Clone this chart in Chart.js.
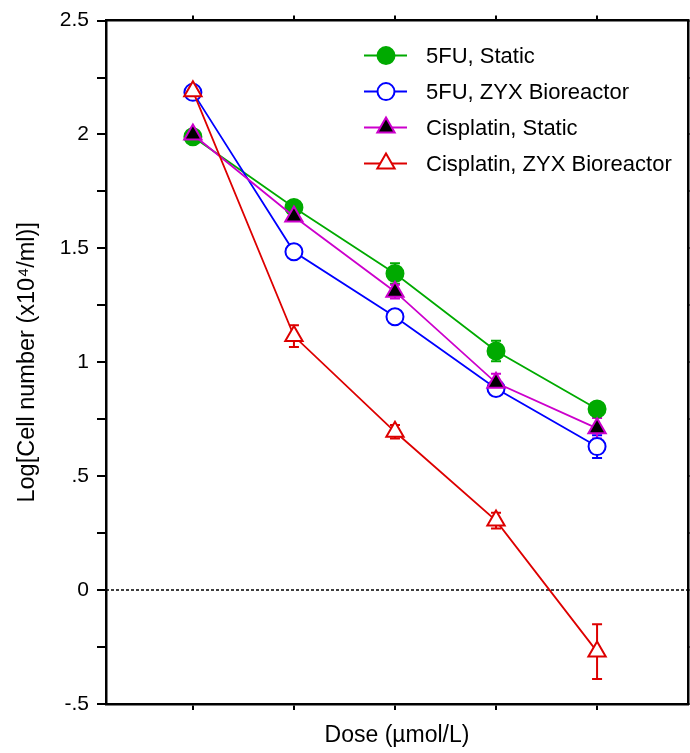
<!DOCTYPE html>
<html>
<head>
<meta charset="utf-8">
<script src="https://cdn.jsdelivr.net/npm/chart.js@4.4.0/dist/chart.umd.min.js"></script>
<style>
  html, body { margin: 0; padding: 0; background: #fff; }
  #wrap { width: 690px; height: 753px; position: relative; }
</style>
</head>
<body>
<div id="wrap"><canvas id="cellChart"></canvas></div>
<script>
"use strict";

// five dose levels, the axis carries no dose values
var doseLevels = [0, 1, 2, 3, 4];

var seriesNames = ["5FU, Static", "5FU, ZYX Bioreactor", "Cisplatin, Static", "Cisplatin, ZYX Bioreactor"];

var fuStatic = [1.99, 1.68, 1.39, 1.05, 0.795];
var fuStaticErr = [0.01, 0.015, 0.045, 0.045, 0.02];
var fuZyx = [2.185, 1.485, 1.20, 0.885, 0.63];
var fuZyxErr = [0.01, 0.01, 0.015, 0.02, 0.05];
var cisStatic = [2.0, 1.64, 1.31, 0.91, 0.71];
var cisStaticErr = [0.01, 0.02, 0.03, 0.04, 0.045];
var cisZyx = [2.19, 1.115, 0.695, 0.305, -0.27];
var cisZyxErr = [0.01, 0.048, 0.03, 0.035, 0.12];

var yTickValues = [-0.5, 0, 0.5, 1, 1.5, 2, 2.5];
var yTickLabels = ["-.5", "0", ".5", "1", "1.5", "2", "2.5"];

Chart.defaults.font.family = "'Liberation Sans', Arial, sans-serif";
Chart.defaults.color = '#000';

function toPoints(values) {
    return doseLevels.map(function (d, i) { return { x: d, y: values[i] }; });
}

function doseTicks(scale) {
    scale.ticks = doseLevels.map(function (v) { return { value: v }; });
}

// error bars go under the markers
var errorBars = {
    id: 'errorBars',
    beforeDatasetsDraw: function (chart) {
        var ctx = chart.ctx, yScale = chart.scales.y;
        chart.data.datasets.forEach(function (ds, i) {
            var meta = chart.getDatasetMeta(i);
            ctx.save();
            ctx.strokeStyle = ds.borderColor;
            ctx.lineWidth = 2;
            meta.data.forEach(function (pt, j) {
                var v = ds.data[j].y, e = ds.errors[j];
                var top = yScale.getPixelForValue(v + e), bot = yScale.getPixelForValue(v - e);
                ctx.beginPath();
                ctx.moveTo(pt.x, top); ctx.lineTo(pt.x, bot);
                ctx.moveTo(pt.x - 5, top); ctx.lineTo(pt.x + 5, top);
                ctx.moveTo(pt.x - 5, bot); ctx.lineTo(pt.x + 5, bot);
                ctx.stroke();
            });
            ctx.restore();
        });
    }
};

var zeroLine = {
    id: 'zeroLine',
    beforeDatasetsDraw: function (chart) {
        var ctx = chart.ctx, a = chart.chartArea;
        var y0 = chart.scales.y.getPixelForValue(0);
        ctx.save();
        ctx.strokeStyle = '#000';
        ctx.lineWidth = 1.5;
        ctx.setLineDash([3, 2]);
        ctx.beginPath();
        ctx.moveTo(a.left, y0); ctx.lineTo(a.right, y0);
        ctx.stroke();
        ctx.restore();
    }
};

// legend with line-marker-line symbols like the original
var lineLegend = {
    id: 'lineLegend',
    afterDraw: function (chart) {
        var ctx = chart.ctx, a = chart.chartArea;
        var x0 = a.left + 258;
        chart.data.datasets.forEach(function (ds, i) {
            var y = a.top + 35 + i * 36;
            ctx.save();
            ctx.strokeStyle = ds.borderColor;
            ctx.lineWidth = 2;
            ctx.beginPath();
            ctx.moveTo(x0, y); ctx.lineTo(x0 + 43, y);
            ctx.stroke();
            ctx.fillStyle = ds.pointBackgroundColor;
            ctx.strokeStyle = ds.borderColor;
            Chart.helpers.drawPoint(ctx, {
                pointStyle: ds.pointStyle, radius: ds.pointRadius,
                rotation: 0, borderWidth: ds.pointBorderWidth
            }, x0 + 22, y);
            ctx.fillStyle = '#000';
            ctx.font = "22px 'Liberation Sans', Arial, sans-serif";
            ctx.textBaseline = 'middle';
            ctx.fillText(ds.label, x0 + 62, y + 1);
            ctx.restore();
        });
    }
};

function series(name, values, errs, color, fill, style, radius, order) {
    return {
        label: name,
        data: toPoints(values),
        errors: errs,
        borderColor: color,
        borderWidth: 1.8,
        pointStyle: style,
        pointRadius: radius,
        pointHoverRadius: radius,
        pointBackgroundColor: fill,
        pointBorderColor: color,
        pointBorderWidth: 2,
        tension: 0,
        order: order
    };
}

var ctxEl = document.getElementById('cellChart');
new Chart(ctxEl, {
    type: 'line',
    data: {
        datasets: [
            series(seriesNames[0], fuStatic, fuStaticErr, '#00AA00', '#00AA00', 'circle', 8.5, 3),
            series(seriesNames[1], fuZyx, fuZyxErr, '#0000FF', '#FFFFFF', 'circle', 8.5, 2),
            series(seriesNames[2], cisStatic, cisStaticErr, '#CC00CC', '#000000', 'triangle', 10, 1),
            series(seriesNames[3], cisZyx, cisZyxErr, '#DD0000', '#FFFFFF', 'triangle', 10, 0)
        ]
    },
    options: {
        responsive: true,
        maintainAspectRatio: false,
        animation: false,
        events: [],
        layout: { padding: 0, autoPadding: false },
        plugins: {
            legend: { display: false },
            tooltip: { enabled: false }
        },
        scales: {
            x: {
                type: 'linear',
                position: 'bottom',
                min: -0.86,
                max: 4.9,
                afterBuildTicks: doseTicks,
                afterFit: function (s) { s.height = 49; },
                ticks: { display: false },
                grid: { drawOnChartArea: false, color: '#000', lineWidth: 2, tickLength: 6 },
                border: { color: '#000', width: 2.5 },
                title: {
                    display: true,
                    text: 'Dose (µmol/L)',
                    font: { size: 23 },
                    padding: { top: 0, bottom: 4 }
                }
            },
            xTop: {
                type: 'linear',
                position: 'top',
                min: -0.86,
                max: 4.9,
                afterBuildTicks: doseTicks,
                afterFit: function (s) { s.height = 17; },
                ticks: { display: false },
                grid: { drawOnChartArea: false, color: '#000', lineWidth: 2, tickLength: 5 },
                border: { color: '#000', width: 2.5 }
            },
            y: {
                type: 'linear',
                position: 'left',
                min: -0.5,
                max: 2.5,
                afterFit: function (s) { s.width = 106; },
                ticks: {
                    stepSize: 0.25,
                    autoSkip: false,
                    padding: 8,
                    font: { size: 21 },
                    callback: function (v) {
                        for (var k = 0; k < yTickValues.length; k++) {
                            if (Math.abs(yTickValues[k] - v) < 1e-6) return yTickLabels[k];
                        }
                        return '';
                    }
                },
                grid: { drawOnChartArea: false, color: '#000', lineWidth: 2, tickLength: 9 },
                border: { color: '#000', width: 2.5 },
                title: {
                    display: true,
                    text: 'Log[Cell number (x10⁴/ml)]',
                    font: { size: 23.5 },
                    padding: { top: 13, bottom: 0 }
                }
            },
            yRight: {
                type: 'linear',
                position: 'right',
                min: -0.5,
                max: 2.5,
                afterFit: function (s) { s.width = 2; },
                ticks: { display: false, stepSize: 0.25 },
                grid: { drawOnChartArea: false, color: '#000', lineWidth: 2, tickLength: 5 },
                border: { color: '#000', width: 2.5 }
            }
        }
    },
    plugins: [zeroLine, errorBars, lineLegend]
});
</script>
</body>
</html>
